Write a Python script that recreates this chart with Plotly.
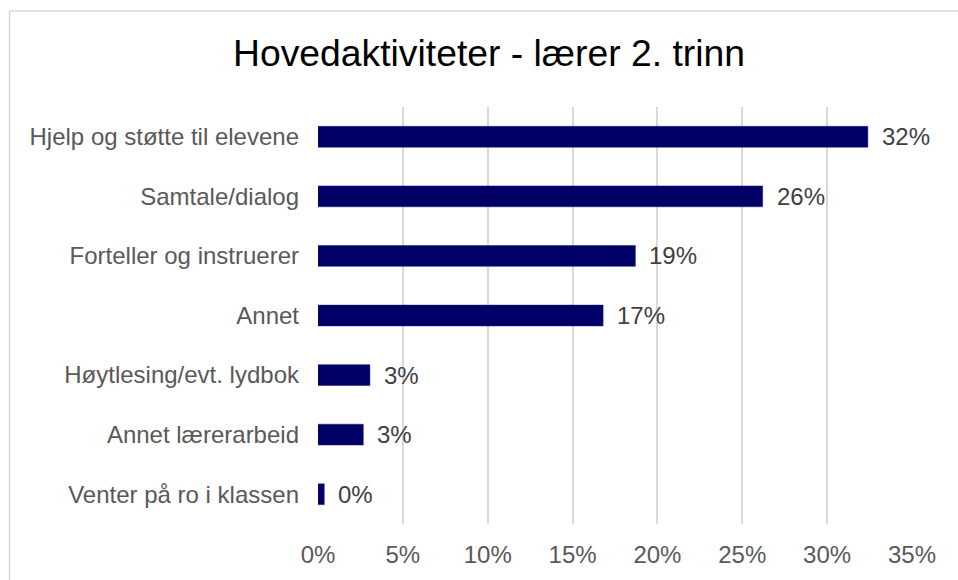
import plotly.graph_objects as go

title_text = "Hovedaktiviteter - lærer 2. trinn"
categories = [
    "Hjelp og støtte til elevene",
    "Samtale/dialog",
    "Forteller og instruerer",
    "Annet",
    "Høytlesing/evt. lydbok",
    "Annet lærerarbeid",
    "Venter på ro i klassen",
]
values = [32.4, 26.2, 18.7, 16.8, 3.06, 2.67, 0.37]
labels = [f"{round(v)}%" for v in values]
x_ticks = [0, 5, 10, 15, 20, 25, 30, 35]
x_tick_labels = [f"{t}%" for t in x_ticks]

FONT = "Liberation Sans, Arial, sans-serif"

fig = go.Figure(
    go.Bar(
        x=values,
        y=categories,
        orientation="h",
        marker=dict(color="#000066", line=dict(color="#1a1a80", width=0.5)),
        hoverinfo="x+y",
    )
)

for v, c, t in zip(values, categories, labels):
    fig.add_annotation(
        x=v, y=c, text=t, xref="x", yref="y",
        xanchor="left", yanchor="middle", xshift=12, showarrow=False,
        font=dict(family=FONT, size=24, color="#404040"),
    )

# chart-area border: left and top edges only
bx0 = (9.5 - 318) / 594
by1 = (528 - 10) / 421
fig.add_shape(type="line", xref="paper", yref="paper",
              x0=bx0, x1=bx0, y0=-0.3, y1=by1,
              line=dict(color="#d9d9d9", width=1.5), layer="below")
fig.add_shape(type="line", xref="paper", yref="paper",
              x0=bx0, x1=1.3, y0=by1, y1=by1,
              line=dict(color="#d9d9d9", width=1.5), layer="below")
# white mask over the far right strip
fig.add_shape(type="rect", xref="paper", yref="paper",
              x0=(940 - 318) / 594, x1=1.3, y0=-0.3, y1=(528 - 12) / 421,
              line=dict(width=0), fillcolor="white", layer="above")

fig.update_layout(
    width=958, height=580,
    margin=dict(l=318, r=46, t=107, b=52),
    paper_bgcolor="white", plot_bgcolor="white",
    bargap=0.65,
    showlegend=False,
    font=dict(family=FONT, size=24, color="#595959"),
    title=dict(
        text=title_text, x=489 / 958, xref="container", xanchor="center",
        y=1 - 53 / 580, yref="container", yanchor="middle",
        font=dict(family=FONT, size=37.3, color="#000000"),
    ),
    xaxis=dict(
        range=[0, 35], tickvals=x_ticks, ticktext=x_tick_labels,
        showgrid=True, gridcolor="#d9d9d9", gridwidth=1.5,
        zeroline=False, showline=False, ticks="",
        ticklabelstandoff=14,
        tickfont=dict(family=FONT, size=24, color="#595959"),
    ),
    yaxis=dict(
        categoryorder="array", categoryarray=categories, autorange="reversed",
        showgrid=False, zeroline=False, showline=False, ticks="",
        ticklabelstandoff=18,
        tickfont=dict(family=FONT, size=24, color="#595959"),
    ),
)

fig.write_html(
    "out.html",
    config={"displayModeBar": False},
    post_script="document.body.style.margin='0';document.body.style.overflow='hidden';",
)
